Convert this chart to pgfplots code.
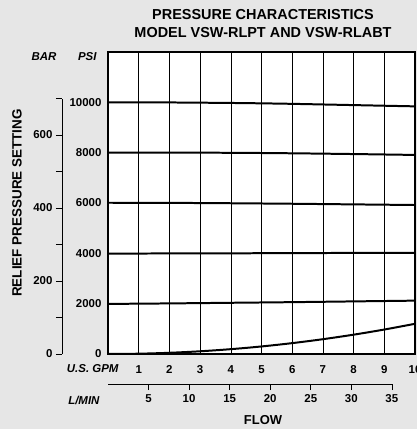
\documentclass[border=0pt]{standalone}
\usepackage{fontspec}
\setmainfont{Liberation Sans}
\usepackage{pgfplots}
\pgfplotsset{compat=1.18}
\definecolor{bg}{RGB}{230,230,230}
\begin{document}
\begin{tikzpicture}
\fill[bg] (-108bp,-75bp) rectangle (309bp,354bp);
% main axis
\begin{axis}[
  name=main,
  scale only axis, width=307bp, height=302bp,
  at={(0,0)}, anchor=south west,
  xmin=0, xmax=10, ymin=0, ymax=12000,
  xtick={1,...,10}, ytick={0,2000,...,10000},
  scaled y ticks=false,
  xmajorgrids, major grid style={black, line width=0.6pt},
  major tick length=0pt,
  axis line style={line width=1.6pt},
  axis background/.style={fill=white},
  /pgf/number format/assume math mode=true,
  /pgf/number format/1000 sep={},
  ticklabel style={font=\fontsize{11.5}{13}\selectfont\bfseries},
  yticklabel style={xshift=-3bp},
  xticklabel style={yshift=-8bp},
  clip=false,
]
\addplot[black, line width=2pt, smooth] coordinates {(0,10000) (2,9995) (4,9975) (5,9960) (6,9940) (8,9890) (10,9840)};
\addplot[black, line width=2pt, smooth] coordinates {(0,8000) (2,8000) (4,7995) (6,7975) (8,7945) (10,7910)};
\addplot[black, line width=2pt, smooth] coordinates {(0,6010) (2,6005) (4,5990) (6,5970) (8,5945) (10,5920)};
\addplot[black, line width=2pt, smooth] coordinates {(0,3990) (2,3995) (4,4000) (6,4010) (8,4015) (10,4020)};
\addplot[black, line width=2pt, smooth] coordinates {(0,1990) (2,2010) (4,2035) (6,2060) (8,2090) (10,2120)};
\addplot[black, line width=2pt, smooth] coordinates {(0,0) (1,12) (2,48) (3,108) (4,192) (5,300) (6,432) (7,588) (8,768) (9,972) (10,1200)};
\end{axis}
% BAR axis
\begin{axis}[
  scale only axis, width=1bp, height=255.5bp,
  at={(-46bp,0)}, anchor=south west,
  xmin=0, xmax=1, ymin=0, ymax=700,
  hide x axis, axis y line*=left,
  axis line style={-, line width=0.6pt},
  ytick={0,200,400,600}, minor ytick={100,300,500,700},
  tick align=outside, major tick length=6bp, minor tick length=6bp,
  tick style={black, line width=0.6pt},
  /pgf/number format/assume math mode=true,
  ticklabel style={font=\fontsize{11.5}{13}\selectfont\bfseries},
]
\end{axis}
% L/MIN axis
\begin{axis}[
  scale only axis, width=283.85bp, height=1bp,
  at={(0,-30bp)}, anchor=south west,
  xmin=0, xmax=35, ymin=0, ymax=1,
  hide y axis, axis x line*=bottom,
  axis line style={-, line width=0.6pt},
  xtick={5,10,...,35},
  tick align=outside, major tick length=6bp,
  tick style={black, line width=0.6pt},
  /pgf/number format/assume math mode=true,
  ticklabel style={font=\fontsize{11.5}{13}\selectfont\bfseries, yshift=-1bp},
]
\end{axis}
% texts
\node[font=\fontsize{14.5}{17}\selectfont\bfseries] at (155bp,339bp) {PRESSURE CHARACTERISTICS};
\node[font=\fontsize{14.5}{17}\selectfont\bfseries] at (155bp,321bp) {MODEL VSW-RLPT AND VSW-RLABT};
\node[font=\fontsize{11.5}{13}\selectfont\bfseries\itshape, anchor=east] at (-48bp,297bp) {BAR};
\node[font=\fontsize{11.5}{13}\selectfont\bfseries\itshape, anchor=east] at (-8bp,297bp) {PSI};
\node[font=\fontsize{13.5}{16}\selectfont\bfseries, rotate=90] at (-91bp,151bp) {RELIEF PRESSURE SETTING};
\node[font=\fontsize{11.5}{13}\selectfont\bfseries\itshape, anchor=east] at (14bp,-15bp) {U.S. GPM};
\node[font=\fontsize{11.5}{13}\selectfont\bfseries\itshape, anchor=east] at (-5bp,-46bp) {L/MIN};
\node[font=\fontsize{13}{15}\selectfont\bfseries] at (155bp,-66bp) {FLOW};
\pgfresetboundingbox
\path[use as bounding box] (-108bp,-75bp) rectangle (309bp,354bp);
\end{tikzpicture}
\end{document}
